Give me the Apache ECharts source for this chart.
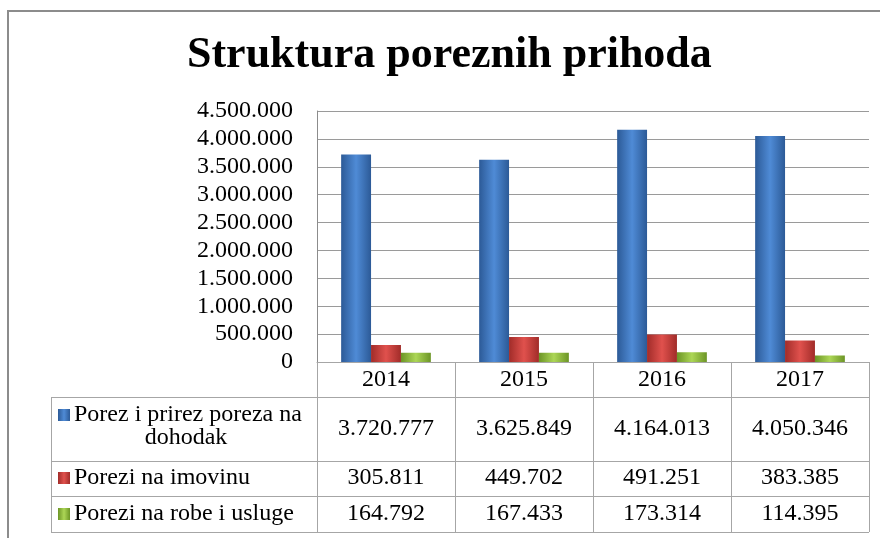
<!DOCTYPE html>
<html>
<head>
<meta charset="utf-8">
<script src="https://cdn.jsdelivr.net/npm/echarts@6/dist/echarts.min.js"></script>
<style>
  html, body { margin: 0; padding: 0; background: #fff; }
  #chart { width: 880px; height: 538px; }
</style>
</head>
<body>
<div id="chart"></div>
<script>
// data
var years = ['2014', '2015', '2016', '2017'];
var seriesNames = ['Porez i prirez poreza na dohodak', 'Porezi na imovinu', 'Porezi na robe i usluge'];
var porezDohodak = [3720777, 3625849, 4164013, 4050346];
var poreziImovina = [305811, 449702, 491251, 383385];
var poreziRobe = [164792, 167433, 173314, 114395];

var FONT = '"Liberation Serif", "Times New Roman", serif';
var colors = [
  ['#2c5a97', '#4f8bd6', '#2c5a97'],
  ['#a12c29', '#e0514d', '#a12c29'],
  ['#6c9526', '#acd656', '#6c9526']
];

function fmt(v) {
  return String(v).replace(/\B(?=(\d{3})+(?!\d))/g, '.');
}

function grad(c) {
  return new echarts.graphic.LinearGradient(0, 0, 1, 0, [
    { offset: 0, color: c[0] },
    { offset: 0.5, color: c[1] },
    { offset: 1, color: c[2] }
  ]);
}

var chart = echarts.init(document.getElementById('chart'));
var allData = [porezDohodak, poreziImovina, poreziRobe];

chart.setOption({
  animation: false,
  title: {
    text: 'Struktura poreznih prihoda',
    left: 187,
    top: 34,
    padding: 0,
    textStyle: { fontFamily: FONT, fontWeight: 'bold', fontSize: 44, color: '#000' }
  },
  grid: { left: 317, right: 11, top: 111, bottom: 176 },
  xAxis: {
    type: 'category',
    data: years,
    axisLine: { lineStyle: { color: '#a6a6a6' } },
    axisTick: { show: false },
    axisLabel: { fontFamily: FONT, fontSize: 24, color: '#000', margin: 6 }
  },
  yAxis: {
    type: 'value',
    min: 0,
    max: 4500000,
    interval: 500000,
    axisLine: { show: true, lineStyle: { color: '#8c8c8c' } },
    axisTick: { show: false },
    splitLine: { lineStyle: { color: '#9a9a9a' } },
    axisLabel: { fontFamily: FONT, fontSize: 24, color: '#000', margin: 24, formatter: fmt }
  },
  series: allData.map(function (d, i) {
    return {
      name: seriesNames[i],
      type: 'bar',
      data: d,
      barGap: '0%',
      barCategoryGap: '35%',
      itemStyle: { color: grad(colors[i]) }
    };
  })
});

// data table under the plot
var x0 = 51, xp = 317, xr = 869;
var yAxisY = 362, rows = [397, 461, 496, 532];
var catW = (xr - xp) / years.length;
var lineCol = '#a6a6a6';
var g = [];

g.push({ type: 'rect', shape: { x: 8, y: 11, width: 900, height: 600 },
  style: { fill: 'none', stroke: '#8c8c8c', lineWidth: 2 }, silent: true });

function hline(y, a, b) {
  g.push({ type: 'line', shape: { x1: a, y1: y + 0.5, x2: b, y2: y + 0.5 }, style: { stroke: lineCol, lineWidth: 1 } });
}
function vline(x, a, b) {
  g.push({ type: 'line', shape: { x1: x + 0.5, y1: a, x2: x + 0.5, y2: b }, style: { stroke: lineCol, lineWidth: 1 } });
}
rows.forEach(function (y) { hline(y, x0, xr); });
vline(x0, rows[0], rows[3]);
for (var k = 0; k <= years.length; k++) {
  vline(Math.round(xp + k * catW), yAxisY, rows[3]);
}

function txt(s, x, y, align) {
  g.push({ type: 'text', x: x, y: y,
    style: { text: s, font: '24px ' + FONT, fill: '#000', align: align || 'center', verticalAlign: 'middle' } });
}
function key(i, y) {
  g.push({ type: 'rect', shape: { x: 58, y: y - 6, width: 12, height: 12 }, style: { fill: grad(colors[i]) } });
}

key(0, 415);
txt('Porez i prirez poreza na', 74, 415, 'left');
txt('dohodak', 186, 438, 'center');
key(1, 478);
txt(seriesNames[1], 74, 478, 'left');
key(2, 514);
txt(seriesNames[2], 74, 514, 'left');

var valueY = [429, 478, 514];
allData.forEach(function (d, i) {
  d.forEach(function (v, j) {
    var cx = chart.convertToPixel({ xAxisIndex: 0 }, years[j]);
    txt(fmt(v), cx, valueY[i], 'center');
  });
});

chart.setOption({ graphic: g });
</script>
</body>
</html>
